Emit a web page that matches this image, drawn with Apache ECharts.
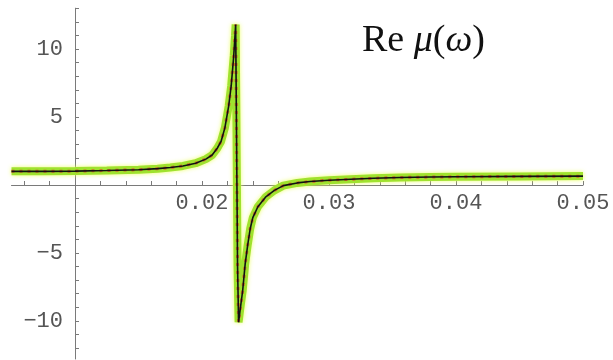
<!DOCTYPE html>
<html>
<head>
<meta charset="utf-8">
<script src="https://cdn.jsdelivr.net/npm/echarts@6/dist/echarts.min.js"></script>
<style>
  html, body { margin: 0; padding: 0; background: #fff; }
  #chart { width: 613px; height: 360px; }
</style>
</head>
<body>
<div id="chart"></div>
<script>
// Real part of the permeability near the resonance
const omega = [0.005, 0.0075, 0.01, 0.0125, 0.015, 0.0165, 0.0175, 0.0185, 0.0195, 0.0203,
  0.0208, 0.0212, 0.0215, 0.0218, 0.0221, 0.0223, 0.0225, 0.0226, 0.02265, 0.0227, 0.02275,
  0.0228, 0.02288, 0.0230, 0.0232, 0.0234, 0.0236, 0.0238, 0.0240, 0.0244, 0.0250, 0.0257,
  0.0264, 0.0275, 0.0285, 0.0300, 0.0317, 0.0335, 0.0356, 0.0380, 0.0400, 0.0450, 0.0500];
const reMu = [1.0, 1.0, 1.02, 1.06, 1.12, 1.2, 1.28, 1.4, 1.6, 1.9,
  2.2, 2.7, 3.2, 4.2, 5.8, 7.3, 9.5, 11.0, 11.8, 6.0, 0.0,
  -6.0, -10.1, -9.2, -7.8, -5.8, -4.4, -3.2, -2.4, -1.6, -0.9, -0.4,
  -0.05, 0.15, 0.25, 0.35, 0.42, 0.49, 0.55, 0.58, 0.6, 0.63, 0.65];

const xLabels = [0.02, 0.03, 0.04, 0.05];
const xTicks = [0.006, 0.008, 0.012, 0.014, 0.016, 0.018, 0.02, 0.022, 0.024, 0.026, 0.028, 0.03,
  0.032, 0.034, 0.036, 0.038, 0.04, 0.042, 0.044, 0.046, 0.048, 0.05];
const yLabels = [-10, -5, 5, 10];
const yTicks = [-12, -11, -10, -9, -8, -7, -6, -5, -4, -3, -2, -1,
  1, 2, 3, 4, 5, 6, 7, 8, 9, 10, 11, 12, 13];

const pts = omega.map((w, i) => [w, reMu[i]]);

const X_MIN = 0.005, X_MAX = 0.05, Y_MIN = -12.8, Y_MAX = 13;
const axisGray = '#7a7a7a';
const labelFont = { fontFamily: 'Liberation Mono', fontSize: 22, color: '#555' };

const chart = echarts.init(document.getElementById('chart'), null, { renderer: 'canvas' });

chart.setOption({
  animation: false,
  backgroundColor: '#fff',
  grid: [
    // plotting area
    { left: 11.5, right: 30, top: 8.2, bottom: 1, containLabel: false, outerBoundsMode: 'none' },
    // upper half whose bottom edge is the line y = 0, carrying the horizontal axis
    { left: 11.5, right: 30, top: 8.2, bottom: 175, containLabel: false, outerBoundsMode: 'none' }
  ],
  xAxis: [
    { gridIndex: 0, type: 'value', min: X_MIN, max: X_MAX, show: false },
    {
      gridIndex: 1, type: 'value', min: X_MIN, max: X_MAX, position: 'bottom',
      splitLine: { show: false },
      axisLine: { onZero: false, lineStyle: { color: axisGray, width: 1 } },
      axisTick: { inside: true, length: 4, customValues: xTicks, lineStyle: { color: axisGray } },
      axisLabel: Object.assign({ customValues: xLabels, margin: 7,
        formatter: v => v.toFixed(2) }, labelFont)
    }
  ],
  yAxis: [
    {
      gridIndex: 0, type: 'value', min: Y_MIN, max: Y_MAX, position: 'left', offset: -63.5,
      splitLine: { show: false },
      axisLine: { onZero: false, lineStyle: { color: axisGray, width: 1 } },
      axisTick: { inside: true, length: 4, customValues: yTicks, lineStyle: { color: axisGray } },
      axisLabel: Object.assign({ customValues: yLabels, margin: 12,
        formatter: v => (v < 0 ? '\u2212' + Math.abs(v) : String(v)) }, labelFont)
    },
    { gridIndex: 1, type: 'value', min: 0, max: Y_MAX, show: false }
  ],
  graphic: [{
    type: 'text', left: 362, top: 22,
    style: {
      text: '{n|Re }{i|\u03bc}{n|(}{i|\u03c9}{n|)}',
      rich: {
        n: { fontFamily: 'Liberation Serif', fontSize: 38, fill: '#111' },
        i: { fontFamily: 'Liberation Serif', fontSize: 38, fontStyle: 'italic', fill: '#111' }
      }
    }
  }],
  series: [
    {
      type: 'line', xAxisIndex: 0, yAxisIndex: 0, data: pts, showSymbol: false, silent: true, z: 2,
      lineStyle: { color: '#9fe22e', width: 8, shadowColor: 'rgba(235,255,90,0.9)', shadowBlur: 4 }
    },
    {
      type: 'line', xAxisIndex: 0, yAxisIndex: 0, data: pts, showSymbol: false, silent: true, z: 3,
      lineStyle: { color: '#d2692a', width: 3, type: [3, 5] }
    },
    {
      type: 'line', xAxisIndex: 0, yAxisIndex: 0, data: pts, showSymbol: false, silent: true, z: 4,
      lineStyle: { color: '#111', width: 1.6 }
    }
  ]
});
</script>
</body>
</html>
